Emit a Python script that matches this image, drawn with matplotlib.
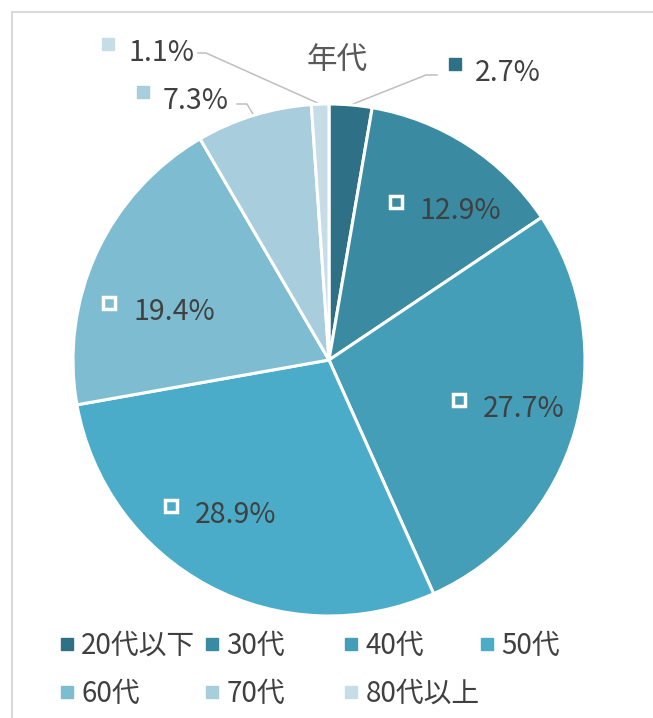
import numpy as np
import matplotlib
matplotlib.use("Agg")
import matplotlib.pyplot as plt
import matplotlib.transforms as mtransforms
from matplotlib.lines import Line2D

plt.rcParams['font.family'] = ['Noto Sans CJK JP', 'DejaVu Sans']

# ---- data ----
categories = ['20代以下', '30代', '40代', '50代', '60代', '70代', '80代以上']
values = [2.7, 12.9, 27.7, 28.9, 19.4, 7.3, 1.1]
colors = ['#2E7186', '#3A8BA2', '#449EB8', '#4BACC9', '#7EBDD1', '#A8CDDC', '#C6DDE7']
title = '年代'
inside = [False, True, True, True, True, False, False]

# ---- layout (pixels) ----
W, H = 653, 718
CX, CY, R = 329, 360, 256
TEXT_C = '#404040'

fig = plt.figure(figsize=(W / 100, H / 100), dpi=100)
ax = fig.add_axes([(CX - R) / W, 1 - (CY + R) / H, 2 * R / W, 2 * R / H])

wedges, _ = ax.pie(values, colors=colors, startangle=90, counterclock=False,
                   radius=1, wedgeprops=dict(edgecolor='white', linewidth=2.2))
ax.set_xlim(-1, 1)
ax.set_ylim(-1, 1)
ax.set_aspect('equal')
ax.axis('off')

def off(x, y):
    return mtransforms.offset_copy(ax.transData, fig=fig, x=x, y=y, units='dots')

def d(pxx, pyy):
    return (pxx - CX) / R, (CY - pyy) / R

LABEL_FS = 20.5
# label text-left anchors (px) for each slice
label_pos = {0: (475, 73), 1: (420, 211), 2: (483, 409), 3: (195, 515),
             4: (133, 312), 5: (163, 101), 6: (128, 53)}
outside_lead = {0: [(437, 75), (426, 75)], 6: [(198, 53), (206, 53)],
                5: [(237, 104), (247, 104)]}

for i, (w, v, ins) in enumerate(zip(wedges, values, inside)):
    tx, ty = d(*label_pos[i])
    if ins:
        ax.plot(tx, ty, marker='s', markersize=9.3, mfc='none', mec='white',
                mew=2.5, transform=off(-24, 9), linestyle='', clip_on=False)
    else:
        mid = np.deg2rad((w.theta1 + w.theta2) / 2)
        ex, ey = np.cos(mid), np.sin(mid)
        pts = [d(*p) for p in outside_lead[i]] + [(ex, ey)]
        ax.plot([p[0] for p in pts], [p[1] for p in pts], color='#BFBFBF', lw=1.1,
                clip_on=False, zorder=0.5)
        ax.plot(tx, ty, marker='s', markersize=8, color=colors[i], linestyle='',
                transform=off(-20, 9), clip_on=False)
    ax.text(tx, ty, f'{v}%', ha='left', va='center',
            fontsize=LABEL_FS, color=TEXT_C, clip_on=False)

fig.text(337 / W, 1 - 61 / H, title, ha='center', va='center', fontsize=22, color='#595959')

# legend: one entry each, Excel-like grid
leg_x = [67, 212, 351, 487]
leg_y = [646, 694]
for i, (cat, col) in enumerate(zip(categories, colors)):
    r, c = divmod(i, 4)
    h = Line2D([], [], marker='s', linestyle='', markersize=8, color=col)
    fs = 20
    hl = 12 / (fs * 100 / 72)
    fig.legend([h], [cat], loc='center left',
               bbox_to_anchor=((leg_x[c] - 6) / W, 1 - leg_y[r] / H),
               frameon=False, fontsize=fs, handlelength=hl, handletextpad=0.3,
               borderpad=0, borderaxespad=0, labelcolor=TEXT_C)

# frame (top and left edges visible)
fig.add_artist(Line2D([12 / W, 1], [1 - 12 / H, 1 - 12 / H], color='#D9D9D9', lw=1.5))
fig.add_artist(Line2D([12 / W, 12 / W], [1 - 12 / H, 0], color='#D9D9D9', lw=1.5))

fig.savefig('out.png', dpi=100)
